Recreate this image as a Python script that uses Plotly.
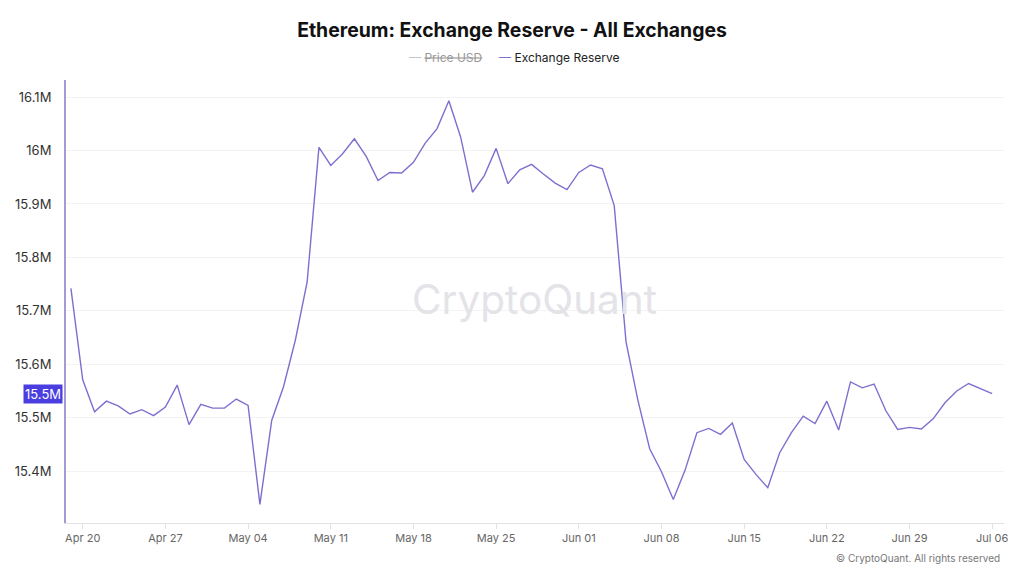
import pandas as pd
import plotly.graph_objects as go

# -----------------------------------------------------------------------------
# Données : réserve ETH sur les exchanges (en millions), relevé quotidien
# -----------------------------------------------------------------------------
date_debut = "2025-04-19"
date_fin = "2025-07-06"

reserve_avril = [15.742, 15.571, 15.511, 15.531, 15.522, 15.507, 15.515, 15.504,
                 15.520, 15.561, 15.487, 15.525]
reserve_mai = [15.518, 15.518, 15.535, 15.523, 15.338, 15.495, 15.558, 15.645,
               15.754, 16.006, 15.972, 15.994, 16.022, 15.989, 15.944, 15.959,
               15.958, 15.978, 16.014, 16.041, 16.093, 16.025, 15.922, 15.953,
               16.004, 15.938, 15.964, 15.974, 15.956, 15.939, 15.927]
reserve_juin = [15.959, 15.973, 15.966, 15.897, 15.642, 15.533, 15.442, 15.399,
                15.347, 15.402, 15.472, 15.480, 15.469, 15.490, 15.422, 15.394,
                15.369, 15.434, 15.472, 15.503, 15.489, 15.531, 15.477, 15.567,
                15.556, 15.563, 15.513, 15.478, 15.482, 15.479]
reserve_juillet = [15.498, 15.528, 15.550, 15.564, 15.555, 15.545]

y_ticks = [15.4, 15.5, 15.6, 15.7, 15.8, 15.9, 16.0, 16.1]
y_labels = ["15.4M", "15.5M", "15.6M", "15.7M", "15.8M", "15.9M", "16M", "16.1M"]

dates = pd.date_range(date_debut, date_fin, freq="D")
reserve = reserve_avril + reserve_mai + reserve_juin + reserve_juillet
dernier = reserve[-1]

VIOLET = "#7c70cf"
POLICE = "Inter, Roboto, sans-serif"

fig = go.Figure()
fig.add_trace(
    go.Scatter(
        x=dates, y=reserve, mode="lines", name="Exchange Reserve",
        line=dict(color=VIOLET, width=1.4), showlegend=False,
    )
)

fig.update_layout(
    width=1024, height=576,
    margin=dict(l=66, r=20, t=80, b=53),
    paper_bgcolor="white", plot_bgcolor="white",
    font=dict(family=POLICE, color="#222"),
    title=dict(
        text="<b>Ethereum: Exchange Reserve - All Exchanges</b>",
        x=0.5, xanchor="center", y=0.948, yanchor="middle",
        font=dict(size=19.4, color="#111", family=POLICE),
    ),
    xaxis=dict(
        type="date",
        range=["2025-04-18 14:00", "2025-07-07 00:00"],
        tick0="2025-04-20", dtick=7 * 86400000, tickformat="%b %d",
        showgrid=False, showline=True, linecolor="#e3e3e3", linewidth=1,
        ticks="outside", ticklen=5, tickcolor="#e3e3e3",
        tickfont=dict(size=11, color="#666"),
    ),
    yaxis=dict(
        range=[15.303, 16.132],
        tickvals=y_ticks, ticktext=y_labels,
        showgrid=True, gridcolor="#f3f3f3", gridwidth=1,
        zeroline=False, showline=True, linecolor="#a49bd6", linewidth=2,
        ticks="", tickfont=dict(size=13, color="#333"), ticklabelstandoff=10,
    ),
)

# Légende façon CryptoQuant (série Price USD désactivée, donc barrée)
legende = (
    '<span style="color:#c4c4c4">—</span> '
    '<span style="color:#9a9a9a;text-decoration:line-through">Price USD</span>'
    '     '
    f'<span style="color:{VIOLET}">—</span> Exchange Reserve'
)
fig.add_annotation(
    text=legende, xref="paper", yref="paper", x=(514 - 66) / 938, y=1.05,
    xanchor="center", yanchor="middle", showarrow=False,
    font=dict(size=12, color="#222", family=POLICE),
)

# Filigrane
fig.add_annotation(
    text="CryptoQuant", xref="paper", yref="paper", x=0.4998, y=0.505,
    showarrow=False, font=dict(size=40.5, color="#e3e3e8", family=POLICE),
)

# Badge de la dernière valeur
fig.add_annotation(
    text=f"{dernier:.1f}M", xref="paper", yref="y", x=0, y=dernier,
    xanchor="right", xshift=-3, showarrow=False,
    font=dict(size=13, color="white", family=POLICE),
    bgcolor="#4a3ee0", borderpad=1,
)

# Copyright
fig.add_annotation(
    text="© CryptoQuant. All rights reserved", xref="paper", yref="paper",
    x=0.998, y=-0.079, xanchor="right", yanchor="middle", showarrow=False,
    font=dict(size=10, color="#777", family=POLICE),
)

# marge par défaut du <body> supprimée pour caler la figure sur la fenêtre
fig.write_html(
    "out.html",
    config={"displayModeBar": False},
    post_script="document.body.style.margin='0';",
)
